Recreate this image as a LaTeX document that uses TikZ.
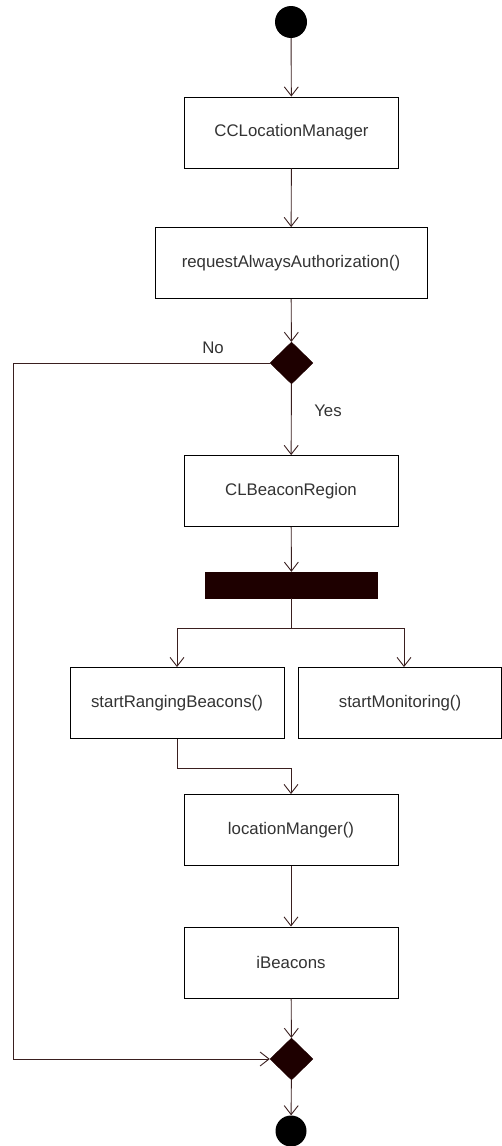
\documentclass[tikz,border=0pt]{standalone}
\usepackage{fontspec}
\setmainfont{Liberation Sans}
\usetikzlibrary{arrows.meta,shapes.geometric}
\definecolor{flow}{HTML}{3A1F1F}
\definecolor{solid}{HTML}{1E0000}
\definecolor{label}{HTML}{333333}
\tikzset{
  act/.style={draw=black, line width=0.9pt, fill=white, minimum width=214pt, minimum height=71pt,
              inner sep=0pt, font=\fontsize{16.8}{19}\selectfont, text=label},
  dot/.style={circle, fill=black, minimum size=32pt, inner sep=0pt},
  choice/.style={diamond, fill=solid, draw=solid, minimum width=43pt, minimum height=42pt, inner sep=0pt},
  bar/.style={rectangle, fill=solid, draw=solid, minimum width=172pt, minimum height=26pt, inner sep=0pt},
  flowline/.style={draw=flow, line width=0.9pt, -{Straight Barb[length=9pt,width=14pt,line width=0.9pt]}},
  plain/.style={draw=flow, line width=0.9pt},
  tag/.style={font=\fontsize{16.8}{19}\selectfont, text=label}
}
\begin{document}
\begin{tikzpicture}[x=1pt,y=-1pt]
  \useasboundingbox (0,0) rectangle (501,1146);
  % nodes
  \node[dot] (start) at (291,22) {};
  \node[act] (mgr) at (291.5,132.5) {CCLocationManager};
  \node[act, minimum width=272pt] (auth) at (291,263) {requestAlwaysAuthorization()};
  \node[choice] (ask) at (291.5,363) {};
  \node[act] (region) at (291,491) {CLBeaconRegion};
  \node[bar] (fork) at (291.5,585) {};
  \node[act] (ranging) at (177,703) {startRangingBeacons()};
  \node[act, minimum width=203pt] (monitor) at (400,703) {startMonitoring()};
  \node[act] (locmgr) at (291,830) {locationManger()};
  \node[act] (beacons) at (291,962.5) {iBeacons};
  \node[choice] (merge) at (291.5,1059) {};
  \node[dot, minimum size=31pt] (finish) at (291,1131) {};
  \coordinate (leftA) at (13,363);
  \coordinate (leftB) at (13,1059);
  \coordinate (split) at (291.5,628);
  \coordinate (splitL) at (177,628);
  \coordinate (splitR) at (404,628);
  \coordinate (joinA) at (177,768);
  \coordinate (joinB) at (291,768);
  % connectors
  \draw[flowline] (start) -- (mgr);
  \draw[flowline] (mgr) -- (auth);
  \draw[flowline] (auth) -- (ask);
  \draw[flowline] (ask) -- (region);
  \draw[flowline] (region) -- (fork);
  \draw[plain] (fork) -- (split);
  \draw[plain] (splitL) -- (splitR);
  \draw[flowline] (splitL) -- (ranging.north -| splitL);
  \draw[flowline] (splitR) -- (monitor.north -| splitR);
  \draw[flowline] (ranging.south) -- (joinA) -- (joinB) -- (locmgr);
  \draw[flowline] (locmgr) -- (beacons);
  \draw[flowline] (beacons) -- (merge);
  \draw[flowline] (ask.west) -- (leftA) -- (leftB) -- (merge.west);
  \draw[flowline] (merge) -- (finish);
  % branch labels
  \node[tag] (no) at (213,348) {No};
  \node[tag] (yes) at (328,411) {Yes};
\end{tikzpicture}
\end{document}
